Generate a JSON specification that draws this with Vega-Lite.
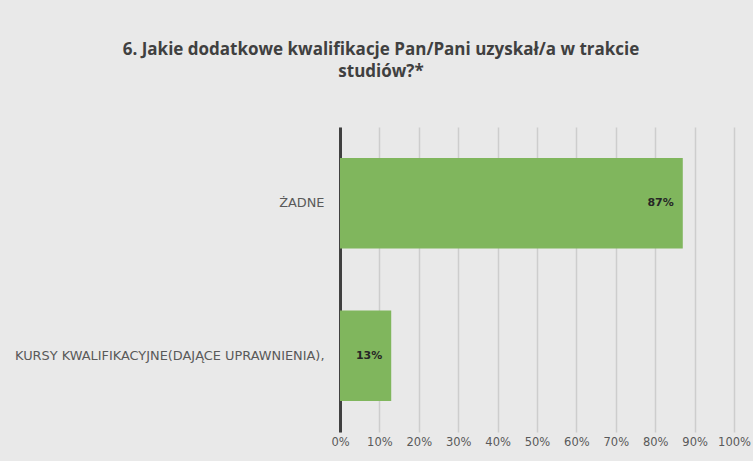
{
  "$schema": "https://vega.github.io/schema/vega-lite/v6.json",
  "width": 394,
  "height": 305,
  "autosize": "none",
  "padding": {"left": 340, "top": 127, "right": 19, "bottom": 29},
  "background": "#e9e9e9",
  "title": {
    "text": ["6. Jakie dodatkowe kwalifikacje Pan/Pani uzyskał/a w trakcie", "studiów?*"],
    "anchor": "middle",
    "frame": "group",
    "dx": -156,
    "offset": 46,
    "font": "Open Sans",
    "fontSize": 17,
    "fontWeight": "bold",
    "color": "#404040",
    "lineHeight": 22
  },
  "config": {
    "view": {"stroke": null},
    "axis": {"labelFont": "DejaVu Sans", "labelColor": "#595959", "labelFontSize": 11.5}
  },
  "data": {
    "values": [
      {"kategoria": "ŻADNE", "wartosc": 0.87},
      {"kategoria": "KURSY KWALIFIKACYJNE(DAJĄCE UPRAWNIENIA),", "wartosc": 0.13}
    ]
  },
  "encoding": {
    "y": {
      "field": "kategoria",
      "type": "nominal",
      "sort": null,
      "scale": {"paddingInner": 0.408, "paddingOuter": 0.204},
      "axis": {
        "title": null,
        "ticks": false,
        "labelPadding": 16,
        "labelLimit": 400,
        "labelFontSize": 12.9,
        "domainColor": "#404040",
        "domainWidth": 3,
        "grid": false
      }
    },
    "x": {
      "field": "wartosc",
      "type": "quantitative",
      "scale": {"domain": [0, 1]},
      "axis": {
        "title": null,
        "format": ".0%",
        "values": [0, 0.1, 0.2, 0.3, 0.4, 0.5, 0.6, 0.7, 0.8, 0.9, 1],
        "labelOverlap": false,
        "labelFlush": false,
        "domain": false,
        "ticks": false,
        "labelPadding": 4,
        "grid": true,
        "gridColor": "#cdcdcd",
        "gridWidth": 1.5
      }
    }
  },
  "layer": [
    {"mark": {"type": "bar", "color": "#80b65d"}},
    {
      "mark": {"type": "text", "align": "right", "dx": -9, "font": "DejaVu Sans", "fontSize": 11, "fontWeight": "bold", "color": "#262626"},
      "encoding": {"text": {"field": "wartosc", "format": ".0%"}}
    }
  ]
}
